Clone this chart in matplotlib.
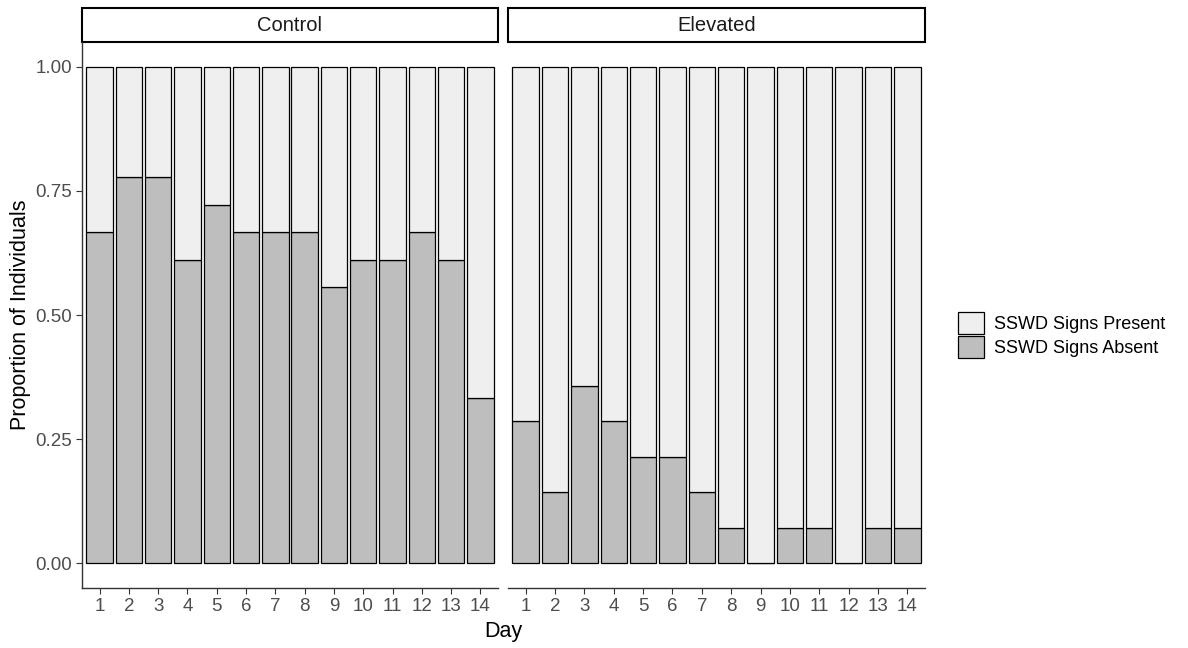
import matplotlib.pyplot as plt
from matplotlib.patches import Patch

plt.rcParams['font.family'] = ['Liberation Sans', 'DejaVu Sans']

days = list(range(1, 15))
panels = ['Control', 'Elevated']
absent_control = [0.667, 0.778, 0.778, 0.611, 0.722, 0.667, 0.667, 0.667, 0.556, 0.611, 0.611, 0.667, 0.611, 0.333]
absent_elevated = [0.286, 0.143, 0.357, 0.286, 0.214, 0.214, 0.143, 0.071, 0.0, 0.071, 0.071, 0.0, 0.071, 0.071]
series_labels = ['SSWD Signs Present', 'SSWD Signs Absent']

col_present = '#efefef'
col_absent = '#bebebe'
tick_col = '#4d4d4d'

fig = plt.figure(figsize=(11.88, 6.48), dpi=100)
ax_l = fig.add_axes([82 / 1188, 1 - 588 / 648, 416 / 1188, 546 / 648])
ax_r = fig.add_axes([508 / 1188, 1 - 588 / 648, 417 / 1188, 546 / 648])

for ax, name, absent in zip([ax_l, ax_r], panels, [absent_control, absent_elevated]):
    present = [1 - a for a in absent]
    ax.bar(days, absent, width=0.9, color=col_absent, edgecolor='black', linewidth=0.9)
    ax.bar(days, present, bottom=absent, width=0.9, color=col_present, edgecolor='black', linewidth=0.9)
    ax.set_xlim(0.4, 14.6)
    ax.set_ylim(-0.05, 1.05)
    ax.set_xticks(days)
    ax.set_xticklabels([str(d) for d in days])
    ax.tick_params(axis='x', colors='#333333', labelcolor=tick_col, labelsize=13.5,
                   length=4, width=0.8, pad=3)
    for s in ['top', 'right']:
        ax.spines[s].set_visible(False)
    ax.spines['bottom'].set_color('#333333')
    ax.spines['left'].set_color('#333333')
    ax.spines['bottom'].set_linewidth(1.0)
    ax.spines['left'].set_linewidth(1.0)
    # facet strip
    strip = plt.Rectangle((0, 1.0), 1, 34 / 546, transform=ax.transAxes, facecolor='white',
                          edgecolor='black', linewidth=1.5, clip_on=False)
    ax.add_patch(strip)
    ax.text(0.5, 1.0 + 17 / 546, name, transform=ax.transAxes, ha='center', va='center',
            fontsize=14.5, color='#1a1a1a')

ax_l.set_yticks([0, 0.25, 0.5, 0.75, 1.0])
ax_l.set_yticklabels(['0.00', '0.25', '0.50', '0.75', '1.00'])
ax_l.tick_params(axis='y', colors='#333333', labelcolor=tick_col, labelsize=13.5, length=4, width=0.8, pad=3)
ax_l.set_ylabel('Proportion of Individuals', fontsize=15.5, labelpad=3)

ax_r.set_yticks([])
ax_r.spines['left'].set_visible(False)

fig.text((82 + 925) / 2 / 1188, 1 - 631 / 648, 'Day', ha='center', va='center', fontsize=15.5)

handles = [Patch(facecolor=col_present, edgecolor='black', linewidth=0.9),
           Patch(facecolor=col_absent, edgecolor='black', linewidth=0.9)]
fig.legend(handles, series_labels, loc='center left', bbox_to_anchor=(942 / 1188, 1 - 335 / 648),
           frameon=False, fontsize=13, handlelength=1.4, handleheight=1.45, handletextpad=0.6,
           labelspacing=0.15)

fig.savefig('out.png', dpi=100)
